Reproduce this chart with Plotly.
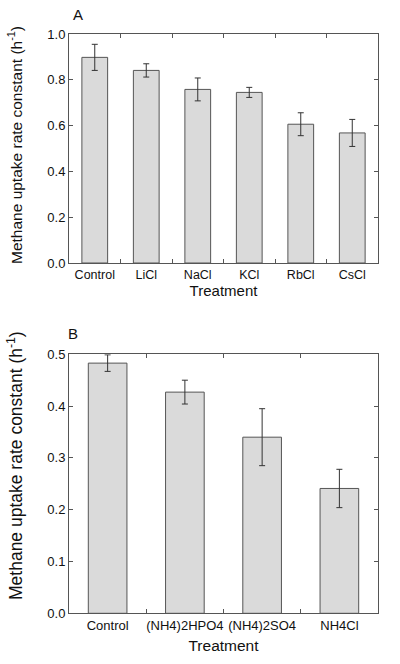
import plotly.graph_objects as go

cats_a = ["Control", "LiCl", "NaCl", "KCl", "RbCl", "CsCl"]
vals_a = [0.898, 0.841, 0.758, 0.745, 0.606, 0.568]
err_a = [0.057, 0.029, 0.050, 0.022, 0.050, 0.059]

cats_b = ["Control", "(NH4)2HPO4", "(NH4)2SO4", "NH4Cl"]
vals_b = [0.483, 0.427, 0.340, 0.241]
err_b = [0.016, 0.023, 0.055, 0.037]

FONT = "Liberation Sans, Arial, sans-serif"
bar_style = dict(marker=dict(color="#dadada", line=dict(color="#555555", width=1)),
                 width=0.5, showlegend=False, hoverinfo="skip")
err_style = dict(type="data", thickness=1, width=3, color="#333333")

fig = go.Figure()
fig.add_trace(go.Bar(x=cats_a, y=vals_a, error_y=dict(array=err_a, **err_style),
                     xaxis="x", yaxis="y", **bar_style))
fig.add_trace(go.Bar(x=cats_b, y=vals_b, error_y=dict(array=err_b, **err_style),
                     xaxis="x2", yaxis="y2", **bar_style))

xdom = [69 / 400, 378 / 400]
ax_common = dict(showline=True, linecolor="#555555", linewidth=1, mirror="ticks",
                 ticks="inside", ticklen=4, tickcolor="#555555", showgrid=False,
                 zeroline=False, automargin=False)

fig.update_layout(
    width=400, height=664,
    margin=dict(l=0, r=0, t=0, b=0),
    paper_bgcolor="white", plot_bgcolor="white",
    font=dict(family=FONT, color="#111111"),
    xaxis=dict(domain=xdom, anchor="y", tickson="boundaries", tickangle=0,
               tickfont=dict(size=12.5),
               title=dict(text="Treatment", font=dict(size=15), standoff=4),
               **ax_common),
    yaxis=dict(domain=[(664 - 263) / 664, (664 - 34) / 664], anchor="x",
               range=[0, 1.0], tickvals=[0, 0.2, 0.4, 0.6, 0.8, 1.0],
               tickformat=".1f", tickfont=dict(size=13), **ax_common),
    xaxis2=dict(domain=xdom, anchor="y2", tickson="boundaries", tickangle=0,
                tickfont=dict(size=13),
                title=dict(text="Treatment", font=dict(size=15.5), standoff=8),
                **ax_common),
    yaxis2=dict(domain=[(664 - 613.3) / 664, (664 - 354.3) / 664], anchor="x2",
                range=[0, 0.5], tickvals=[0, 0.1, 0.2, 0.3, 0.4, 0.5],
                tickformat=".1f", tickfont=dict(size=13), **ax_common),
    annotations=[
        dict(text="A", x=78 / 400, y=1 - 15 / 664, xref="paper", yref="paper",
             showarrow=False, font=dict(size=15), xanchor="center", yanchor="middle"),
        dict(text="B", x=73 / 400, y=1 - 333 / 664, xref="paper", yref="paper",
             showarrow=False, font=dict(size=15), xanchor="center", yanchor="middle"),
        dict(text="Methane uptake rate constant (h<sup>-1</sup>)", textangle=-90,
             x=15 / 400, y=1 - 145 / 664, xref="paper", yref="paper",
             showarrow=False, font=dict(size=15.5), xanchor="center", yanchor="middle"),
        dict(text="Methane uptake rate constant (h<sup>-1</sup>)", textangle=-90,
             x=15 / 400, y=1 - 466 / 664, xref="paper", yref="paper",
             showarrow=False, font=dict(size=17.5), xanchor="center", yanchor="middle"),
    ],
)

fig.write_html("out.html", config={"displayModeBar": False},
               post_script="document.body.style.margin='0';document.body.style.padding='0';")
